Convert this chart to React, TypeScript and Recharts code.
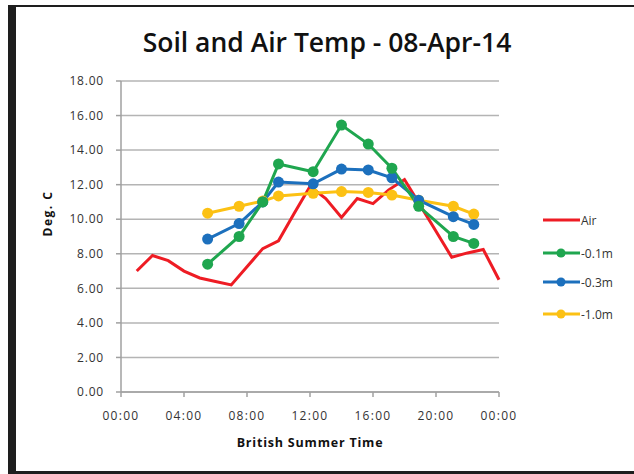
import React from 'react';
import { LineChart, Line, XAxis, YAxis, CartesianGrid } from 'recharts';

// air temperature, hourly readings (hours since midnight)
const airHours = [1, 2, 3, 4, 5, 6, 7, 8, 9, 10, 11, 12, 13, 14, 15, 16, 17, 18, 19, 20, 21, 22, 23, 24];
const airValues = [7.0, 7.9, 7.6, 7.0, 6.6, 6.4, 6.2, 7.25, 8.3, 8.75, 10.35, 11.9, 11.2, 10.1, 11.2, 10.9, 11.7, 12.3, 10.8, 9.3, 7.8, 8.05, 8.25, 6.5];

// soil probe readings, taken at irregular times
const soilHours = [5.5, 7.5, 9.0, 10.0, 12.2, 14.0, 15.7, 17.2, 18.9, 21.1, 22.4];
const soil01 = [7.4, 9.0, 11.0, 13.2, 12.75, 15.45, 14.35, 12.95, 10.75, 9.0, 8.6];
const soil03 = [8.85, 9.75, 11.0, 12.15, 12.05, 12.9, 12.85, 12.4, 11.1, 10.15, 9.7];
const soil10 = [10.35, 10.75, 11.05, 11.35, 11.5, 11.6, 11.55, 11.4, 11.1, 10.75, 10.3];

const xTicks = [0, 4, 8, 12, 16, 20, 24];
const xTickLabels = ['00:00', '04:00', '08:00', '12:00', '16:00', '20:00', '00:00'];
const yTicks = [0, 2, 4, 6, 8, 10, 12, 14, 16, 18];

const airData = airHours.map((h, i) => ({ t: h, air: airValues[i] }));
const soilData = soilHours.map((h, i) => ({ t: h, s01: soil01[i], s03: soil03[i], s10: soil10[i] }));

const series = [
  { key: 'air', name: 'Air', color: '#ee1c24', dot: false },
  { key: 's01', name: '-0.1m', color: '#1fa64f', dot: true },
  { key: 's03', name: '-0.3m', color: '#1c70bd', dot: true },
  { key: 's10', name: '-1.0m', color: '#fcc114', dot: true },
];

const font = '"Open Sans", "Noto Sans", sans-serif';
const rowY = [220, 253, 282, 314];

// drawn outside the chart so it doesn't shrink the plot area
const LegendBox = () => (
  <svg width={100} height={140} style={{ position: 'absolute', left: 543, top: 200, overflow: 'visible' }}>
    {series.map((s, i) => {
      const y = rowY[i] - 200;
      return (
        <g key={s.key}>
          <line x1={0} x2={37} y1={y} y2={y} stroke={s.color} strokeWidth={3} />
          {s.dot && <circle cx={18} cy={y} r={4.5} fill={s.color} />}
          <text x={38} y={y + 4.5} fontSize={12} fill="#333" fontFamily={font}>{s.name}</text>
        </g>
      );
    })}
  </svg>
);

export default function App() {
  return (
    <div style={{ position: 'fixed', left: 0, top: 0, width: 634, height: 474, background: '#fff', overflow: 'hidden' }}>
      <div style={{
        position: 'absolute', left: 8, top: 5, width: 626, height: 469, boxSizing: 'border-box',
        borderTop: '2px solid #1e1e1e', borderLeft: '8px solid #1e1e1e', borderBottom: '3px solid #1e1e1e',
      }} />
      <div style={{
        position: 'absolute', left: 0, width: 654, top: 24, textAlign: 'center',
        fontFamily: font, fontSize: 26.5, fontWeight: 600, color: '#111',
      }}>
        Soil and Air Temp - 08-Apr-14
      </div>
      <div style={{ position: 'absolute', left: 0, top: 0 }}>
        <LineChart width={634} height={474} margin={{ top: 81, right: 135, bottom: 0, left: 0 }}>
          <CartesianGrid vertical={false} stroke="#b4b4b4" strokeWidth={1.5} />
          <XAxis
            type="number"
            dataKey="t"
            domain={[0, 24]}
            ticks={xTicks}
            tickFormatter={(v: number) => xTickLabels[xTicks.indexOf(v)]}
            stroke="#a0a0a0"
            strokeWidth={1.5}
            tickSize={5}
            tickMargin={14}
            tick={{ fill: '#333', fontSize: 12, fontFamily: font, letterSpacing: 1.3 }}
            allowDuplicatedCategory={false}
            label={{ value: 'British Summer Time', position: 'insideBottom', offset: 27, fill: '#111', fontSize: 12.5, fontWeight: 700, fontFamily: font, letterSpacing: 0.8 }}
            height={82}
          />
          <YAxis
            domain={[0, 18]}
            ticks={yTicks}
            tickFormatter={(v: number) => v.toFixed(2)}
            stroke="#a0a0a0"
            strokeWidth={1.5}
            tickSize={5}
            tickMargin={12}
            tick={{ fill: '#333', fontSize: 12, fontFamily: font, letterSpacing: 0.8 }}
            width={121}
            label={{ value: 'Deg. C', angle: -90, position: 'insideLeft', offset: 48, fill: '#111', fontSize: 12, fontWeight: 700, fontFamily: font, letterSpacing: 1.5 }}
          />
          <Line data={airData} dataKey="air" name="Air" type="linear" stroke={series[0].color} strokeWidth={3} dot={false} isAnimationActive={false} />
          <Line data={soilData} dataKey="s10" name="-1.0m" type="linear" stroke={series[3].color} strokeWidth={3} dot={{ r: 5.5, fill: series[3].color, strokeWidth: 0 }} isAnimationActive={false} />
          <Line data={soilData} dataKey="s03" name="-0.3m" type="linear" stroke={series[2].color} strokeWidth={3} dot={{ r: 5.5, fill: series[2].color, strokeWidth: 0 }} isAnimationActive={false} />
          <Line data={soilData} dataKey="s01" name="-0.1m" type="linear" stroke={series[1].color} strokeWidth={3} dot={{ r: 5.5, fill: series[1].color, strokeWidth: 0 }} isAnimationActive={false} />
        </LineChart>
      </div>
      <LegendBox />
    </div>
  );
}
